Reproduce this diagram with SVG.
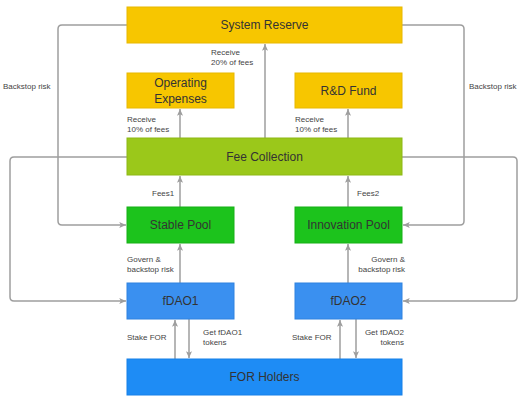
<svg xmlns="http://www.w3.org/2000/svg" width="520" height="400" viewBox="0 0 520 400">
<style>
.y{fill:#F7C600;stroke:#E8B800;stroke-width:1}
.fc{fill:#9BC81A;stroke:#8DB814;stroke-width:1}
.g{fill:#1CC31C;stroke:#16B016;stroke-width:1}
.b{fill:#3A90F0;stroke:#2F82E0;stroke-width:1}
.bh{fill:#1E8CF5;stroke:#1780E8;stroke-width:1}
.t{font-family:"Liberation Sans",Arial,sans-serif;font-size:12px;fill:#333;text-anchor:middle}
.s{font-family:"Liberation Sans",Arial,sans-serif;font-size:8px;fill:#444}
.c{fill:none;stroke:#9E9E9E;stroke-width:1.5;marker-end:url(#a)}
</style>
<defs>
<marker id="a" viewBox="0 0 10 10" refX="9" refY="5" markerWidth="5" markerHeight="5" orient="auto" markerUnits="strokeWidth">
<path d="M0,1 L9,5 L0,9 L2,5 Z" fill="#9E9E9E"/>
</marker>
</defs>
<rect width="520" height="400" fill="#fff"/>
<g id="connectors">
<path class="c" d="M127,25 H62 Q58,25 58,29 V221 Q58,225 62,225 H126"/>
<path class="c" d="M402,25 H460 Q464,25 464,29 V221 Q464,225 460,225 H403"/>
<path class="c" d="M127,157 H14 Q10,157 10,161 V297 Q10,301 14,301 H126"/>
<path class="c" d="M402,157 H513 Q517,157 517,161 V297 Q517,301 513,301 H403"/>
<path class="c" d="M265,138 V44"/>
<path class="c" d="M180,138 V109"/>
<path class="c" d="M348,138 V109"/>
<path class="c" d="M180,207 V176"/>
<path class="c" d="M348,207 V176"/>
<path class="c" d="M180,283 V244"/>
<path class="c" d="M348,283 V244"/>
<path class="c" d="M175,359 V320"/>
<path class="c" d="M189,319 V358"/>
<path class="c" d="M340,359 V320"/>
<path class="c" d="M356,319 V358"/>
<text class="s" x="3" y="89">Backstop risk</text>
<text class="s" x="469" y="89">Backstop risk</text>
<text class="s" x="211" y="55">Receive</text>
<text class="s" x="211" y="65">20% of fees</text>
<text class="s" x="127" y="122">Receive</text>
<text class="s" x="127" y="132">10% of fees</text>
<text class="s" x="295" y="122">Receive</text>
<text class="s" x="295" y="132">10% of fees</text>
<text class="s" x="152" y="196">Fees1</text>
<text class="s" x="357" y="196">Fees2</text>
<text class="s" x="127" y="262">Govern &amp;</text>
<text class="s" x="127" y="272">backstop risk</text>
<text class="s" x="405" y="262" text-anchor="end">Govern &amp;</text>
<text class="s" x="405" y="272" text-anchor="end">backstop risk</text>
<text class="s" x="127" y="340">Stake FOR</text>
<text class="s" x="203" y="335">Get fDAO1</text>
<text class="s" x="203" y="345">tokens</text>
<text class="s" x="292" y="340">Stake FOR</text>
<text class="s" x="404" y="335" text-anchor="end">Get fDAO2</text>
<text class="s" x="404" y="345" text-anchor="end">tokens</text>
</g>
<g id="system-reserve"><rect class="y" x="127" y="7" width="275" height="36"/><text class="t" x="264.5" y="29">System Reserve</text></g>
<g id="operating-expenses"><rect class="y" x="127" y="73" width="107" height="35"/><text class="t" x="180.5" y="87">Operating</text><text class="t" x="180.5" y="103">Expenses</text></g>
<g id="rd-fund"><rect class="y" x="295" y="73" width="107" height="35"/><text class="t" x="348.5" y="95">R&amp;D Fund</text></g>
<g id="fee-collection"><rect class="fc" x="127" y="138" width="275" height="37"/><text class="t" x="264.5" y="161">Fee Collection</text></g>
<g id="stable-pool"><rect class="g" x="127" y="207" width="107" height="36"/><text class="t" x="180.5" y="229">Stable Pool</text></g>
<g id="innovation-pool"><rect class="g" x="295" y="207" width="107" height="36"/><text class="t" x="348.5" y="229">Innovation Pool</text></g>
<g id="fdao1"><rect class="b" x="127" y="283" width="107" height="36"/><text class="t" x="180.5" y="305">fDAO1</text></g>
<g id="fdao2"><rect class="b" x="295" y="283" width="107" height="36"/><text class="t" x="348.5" y="305">fDAO2</text></g>
<g id="for-holders"><rect class="bh" x="127" y="359" width="275" height="36"/><text class="t" x="264.5" y="381">FOR Holders</text></g>
</svg>
